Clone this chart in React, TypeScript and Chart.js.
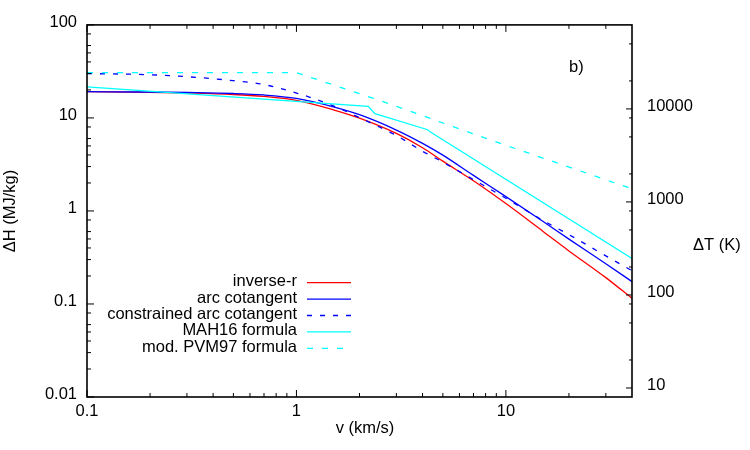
import React, { useEffect, useRef } from 'react';
import { Chart, registerables } from 'chart.js';

Chart.register(...registerables);

// ---- data ----
const vGrid = [0.1, 0.2, 0.3, 0.5, 0.7, 1, 1.5, 2, 3, 4, 5, 7, 10, 15, 20, 30, 40];
const inverseR = [19.13, 18.85, 18.53, 17.86, 17.01, 15.43, 12.23, 9.94, 6.81, 4.78, 3.43, 2.11, 1.2, 0.606, 0.372, 0.192, 0.115];
const arcCotangent = [19.13, 18.99, 18.76, 18.31, 17.65, 16.2, 13.16, 10.83, 7.41, 5.33, 3.98, 2.41, 1.425, 0.774, 0.498, 0.271, 0.174];
const constrainedArcCotangent = [29.99, 29.12, 27.73, 25.15, 22.81, 18.53, 13.49, 10.06, 6.48, 4.38, 3.35, 2.17, 1.37, 0.793, 0.556, 0.329, 0.228];
const mah16V = [0.1, 2.2, 2.37, 4.2, 4.48, 40];
const mah16H = [21.6, 13.3, 11.1, 7.51, 6.81, 0.308];
const pvm97V = [0.1, 1, 2.5, 9.2, 40];
const pvm97H = [30.7, 30.7, 15.4, 5.42, 1.73];

const seriesLabels = ['inverse-r', 'arc cotangent', 'constrained arc cotangent', 'MAH16 formula', 'mod. PVM97 formula'];

const xTicks = [0.1, 1, 10];
const xTickLabels = ['0.1', '1', '10'];
const yTicks = [0.01, 0.1, 1, 10, 100];
const yTickLabels = ['0.01', '0.1', '1', '10', '100'];
const y2Ticks = [10, 100, 1000, 10000];
const y2TickLabels = ['10', '100', '1000', '10000'];
const xMinorMult = [2, 3, 4, 5, 6, 7, 8, 9];
const yMinorMult = [2, 3, 4, 5, 6, 8];
const y2MinorMult = [2, 5, 8];
const kelvinPerMJkg = 800; // ΔT = ΔH / cp

const FONT = "'Liberation Sans', Arial, Helvetica, sans-serif";
const FS = 16.5;

function pts(xs: number[], ys: number[]) {
  return xs.map((x, i) => ({ x, y: ys[i] }));
}

function minorValues(mult: number[], min: number, max: number) {
  const out: number[] = [];
  for (let e = Math.floor(Math.log10(min)); e <= Math.ceil(Math.log10(max)); e++) {
    for (const m of mult) {
      const v = m * Math.pow(10, e);
      if (v > min * 1.0001 && v < max * 0.9999) out.push(v);
    }
  }
  return out;
}

const decorPlugin = {
  id: 'decor',
  afterDatasetsDraw(chart: any) {
    const { ctx, chartArea: a, scales } = chart;
    ctx.save();
    ctx.strokeStyle = '#000';
    ctx.lineWidth = 1;
    const line = (x1: number, y1: number, x2: number, y2: number) => {
      ctx.beginPath();
      ctx.moveTo(x1, y1);
      ctx.lineTo(x2, y2);
      ctx.stroke();
    };
    const xs = scales.x;
    const ys = scales.y;
    const y2s = scales.y2;
    // x ticks (bottom + mirrored top)
    for (const v of xTicks) {
      const p = xs.getPixelForValue(v);
      line(p, a.bottom, p, a.bottom - 7);
      line(p, a.top, p, a.top + 7);
    }
    for (const v of minorValues(xMinorMult, xs.min, xs.max)) {
      const p = xs.getPixelForValue(v);
      line(p, a.bottom, p, a.bottom - 4);
      line(p, a.top, p, a.top + 4);
    }
    // left y ticks
    for (const v of yTicks) {
      const p = ys.getPixelForValue(v);
      line(a.left, p, a.left + 7, p);
    }
    for (const v of minorValues(yMinorMult, ys.min, ys.max)) {
      const p = ys.getPixelForValue(v);
      line(a.left, p, a.left + 4, p);
    }
    // right y2 ticks
    for (const v of y2Ticks) {
      const p = y2s.getPixelForValue(v);
      line(a.right, p, a.right - 6, p);
    }
    for (const v of minorValues(y2MinorMult, y2s.min, y2s.max)) {
      const p = y2s.getPixelForValue(v);
      line(a.right, p, a.right - 3, p);
    }
    // frame
    ctx.lineWidth = 1.6;
    ctx.strokeRect(a.left, a.top, a.right - a.left, a.bottom - a.top);
    ctx.restore();
  },
  afterDraw(chart: any) {
    const { ctx } = chart;
    ctx.save();
    ctx.fillStyle = '#000';
    ctx.font = `${FS}px ${FONT}`;
    // panel tag
    ctx.textAlign = 'left';
    ctx.textBaseline = 'middle';
    ctx.fillText('b)', 569, 67);
    // right axis title
    ctx.fillText('ΔT (K)', 693, 245);
    // x axis title
    ctx.textAlign = 'center';
    ctx.fillText('v (km/s)', 365, 428);
    // y axis title
    ctx.save();
    ctx.translate(10, 211);
    ctx.rotate(-Math.PI / 2);
    ctx.fillText('ΔH (MJ/kg)', 0, 0);
    ctx.restore();
    // legend
    chart.data.datasets.forEach((ds: any, i: number) => {
      const y = 282.7 + i * 16.4;
      ctx.textAlign = 'right';
      ctx.textBaseline = 'middle';
      ctx.fillStyle = '#000';
      ctx.fillText(ds.label, 297, y - 1);
      ctx.strokeStyle = ds.borderColor;
      ctx.lineWidth = ds.borderWidth;
      ctx.setLineDash(ds.borderDash || []);
      ctx.beginPath();
      ctx.moveTo(307, y);
      ctx.lineTo(351, y);
      ctx.stroke();
      ctx.setLineDash([]);
    });
    ctx.restore();
  },
};

export default function App() {
  const ref = useRef<HTMLCanvasElement>(null);
  useEffect(() => {
    if (!ref.current) return;
    const tickFont = { family: FONT, size: FS };
    const chart = new Chart(ref.current, {
      type: 'line',
      data: {
        datasets: [
          {
            label: seriesLabels[0],
            data: pts(vGrid, inverseR),
            borderColor: '#ff0000',
            borderWidth: 1.3,
            cubicInterpolationMode: 'monotone',
            yAxisID: 'y',
            order: 5,
          },
          {
            label: seriesLabels[1],
            data: pts(vGrid, arcCotangent),
            borderColor: '#0000ff',
            borderWidth: 1.3,
            cubicInterpolationMode: 'monotone',
            yAxisID: 'y',
            order: 4,
          },
          {
            label: seriesLabels[2],
            data: pts(vGrid, constrainedArcCotangent),
            borderColor: '#0000ff',
            borderWidth: 1.3,
            borderDash: [5, 8],
            cubicInterpolationMode: 'monotone',
            yAxisID: 'y',
            order: 3,
          },
          {
            label: seriesLabels[3],
            data: pts(mah16V, mah16H),
            borderColor: '#00ffff',
            borderWidth: 1.3,
            tension: 0,
            yAxisID: 'y',
            order: 2,
          },
          {
            label: seriesLabels[4],
            data: pts(pvm97V, pvm97H),
            borderColor: '#00ffff',
            borderWidth: 1.3,
            borderDash: [6, 9],
            tension: 0,
            yAxisID: 'y',
            order: 1,
          },
        ] as any,
      },
      options: {
        animation: false,
        responsive: false,
        events: [],
        layout: { padding: { top: 20, left: 0, right: 0, bottom: 0 } },
        elements: { point: { radius: 0 } },
        plugins: {
          legend: { display: false },
          tooltip: { enabled: false },
          title: { display: false },
        },
        scales: {
          x: {
            type: 'logarithmic',
            position: 'bottom',
            min: 0.1,
            max: 40,
            grid: { display: false, drawTicks: false },
            border: { display: false },
            afterBuildTicks: (s: any) => {
              s.ticks = xTicks.map((v) => ({ value: v }));
            },
            afterFit: (s: any) => {
              s.height = 53;
            },
            ticks: {
              autoSkip: false,
              maxRotation: 0,
              padding: 5,
              color: '#000',
              font: tickFont,
              callback: (_v: any, i: number) => xTickLabels[i],
            },
          },
          y: {
            type: 'logarithmic',
            position: 'left',
            min: 0.01,
            max: 100,
            grid: { display: false, drawTicks: false },
            border: { display: false },
            afterBuildTicks: (s: any) => {
              s.ticks = yTicks.map((v) => ({ value: v }));
            },
            afterFit: (s: any) => {
              s.width = 87;
            },
            ticks: {
              autoSkip: false,
              padding: 10,
              labelOffset: -2.5,
              color: '#000',
              font: tickFont,
              callback: (_v: any, i: number) => yTickLabels[i],
            },
          },
          y2: {
            type: 'logarithmic',
            position: 'right',
            min: 0.01 * kelvinPerMJkg,
            max: 100 * kelvinPerMJkg,
            grid: { display: false, drawTicks: false },
            border: { display: false },
            afterBuildTicks: (s: any) => {
              s.ticks = y2Ticks.map((v) => ({ value: v }));
            },
            afterFit: (s: any) => {
              s.width = 118;
            },
            ticks: {
              autoSkip: false,
              padding: 15,
              labelOffset: -2.5,
              color: '#000',
              font: tickFont,
              callback: (_v: any, i: number) => y2TickLabels[i],
            },
          },
        },
      } as any,
      plugins: [decorPlugin],
    });
    return () => chart.destroy();
  }, []);
  return (
    <div style={{ position: 'absolute', left: 0, top: 0, width: 750, height: 450, background: '#fff' }}>
      <canvas ref={ref} width={750} height={450} />
    </div>
  );
}
